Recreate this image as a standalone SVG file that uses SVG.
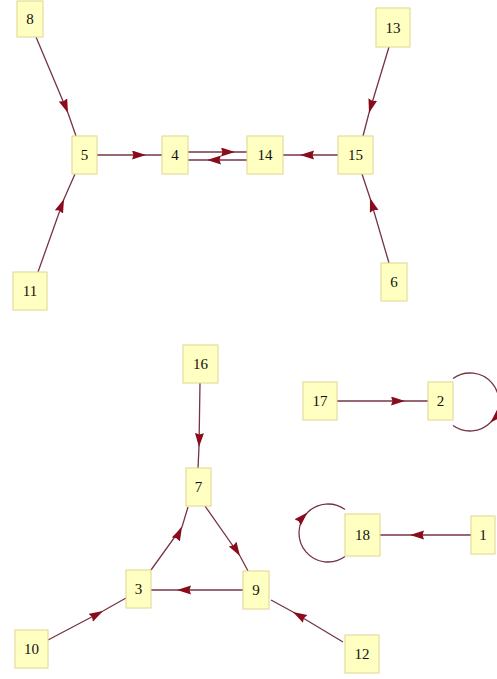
<svg xmlns="http://www.w3.org/2000/svg" width="497" height="679" viewBox="0 0 497 679">
<style>
.n rect{fill:#ffffc2;stroke:#e0d68e;stroke-width:1}
.n text{font-family:"Liberation Serif",serif;font-size:15px;fill:#111;text-anchor:middle;dominant-baseline:central}
.e path{fill:none;stroke:#743444;stroke-width:1.3;marker-mid:url(#ah)}
</style>
<defs>
<marker id="ah" markerUnits="userSpaceOnUse" markerWidth="16" markerHeight="10" refX="14" refY="4.5" orient="auto" viewBox="0 0 16 10">
<path d="M0,0 L14,4.5 L0,9 L1.5,4.5 z" fill="#8a0c1c"/>
</marker>
</defs>
<rect width="497" height="679" fill="#fff"/>
<g id="edges" class="e">
<path d="M36,37 L68,113 L76,136"/>
<path d="M38,272 L64,199 L75,174"/>
<path d="M97,155 L146,155 L162,155"/>
<path d="M188,152 L235,152 L247,152"/>
<path d="M247,160 L207,160 L188,160"/>
<path d="M338,155 L300,155 L283,155"/>
<path d="M389,47 L369,113 L363,136"/>
<path d="M389,263 L370,198 L362,174"/>
<path d="M200,383 L199,447 L198,468"/>
<path d="M205,506 L240,556 L248,571"/>
<path d="M151,570 L182,527 L188,507"/>
<path d="M243,590 L177,590 L151,590"/>
<path d="M48,640 L103,611 L126,598"/>
<path d="M343,642 L293,612 L271,600"/>
<path d="M337,401 L405,401 L428,401"/>
<path d="M471,535 L410,535 L380,535"/>
<path d="M453,378.5 A29,29 0 0 1 490.5,422.5 A29,29 0 0 1 453,425.5"/>
<path d="M345,556.5 A29,29 0 0 1 307.5,512.5 A29,29 0 0 1 345,509.5"/>
</g>
<g id="n8" class="n"><rect x="17" y="1" width="26" height="36"/><text x="30" y="19">8</text></g>
<g id="n5" class="n"><rect x="72" y="136" width="25" height="38"/><text x="84.5" y="155">5</text></g>
<g id="n4" class="n"><rect x="162" y="136" width="26" height="38"/><text x="175" y="155">4</text></g>
<g id="n14" class="n"><rect x="247" y="136" width="36" height="38"/><text x="265" y="155">14</text></g>
<g id="n15" class="n"><rect x="338" y="136" width="35" height="38"/><text x="355.5" y="155">15</text></g>
<g id="n13" class="n"><rect x="376" y="8" width="34" height="39"/><text x="393" y="28">13</text></g>
<g id="n11" class="n"><rect x="13" y="272" width="34" height="38"/><text x="30" y="291">11</text></g>
<g id="n6" class="n"><rect x="381" y="263" width="26" height="38"/><text x="394" y="282">6</text></g>
<g id="n16" class="n"><rect x="183" y="345" width="35" height="38"/><text x="200.5" y="364">16</text></g>
<g id="n7" class="n"><rect x="186" y="468" width="25" height="38"/><text x="198.5" y="487">7</text></g>
<g id="n17" class="n"><rect x="303" y="382" width="34" height="38"/><text x="320" y="401">17</text></g>
<g id="n2" class="n"><rect x="428" y="382" width="25" height="38"/><text x="440.5" y="401">2</text></g>
<g id="n18" class="n"><rect x="345" y="514" width="35" height="42"/><text x="362.5" y="535">18</text></g>
<g id="n1" class="n"><rect x="471" y="516" width="24" height="38"/><text x="483" y="535">1</text></g>
<g id="n3" class="n"><rect x="126" y="570" width="25" height="38"/><text x="138.5" y="589">3</text></g>
<g id="n9" class="n"><rect x="243" y="571" width="26" height="38"/><text x="256" y="590">9</text></g>
<g id="n10" class="n"><rect x="15" y="630" width="33" height="38"/><text x="31.5" y="649">10</text></g>
<g id="n12" class="n"><rect x="345" y="635" width="34" height="38"/><text x="362" y="654">12</text></g>
</svg>
